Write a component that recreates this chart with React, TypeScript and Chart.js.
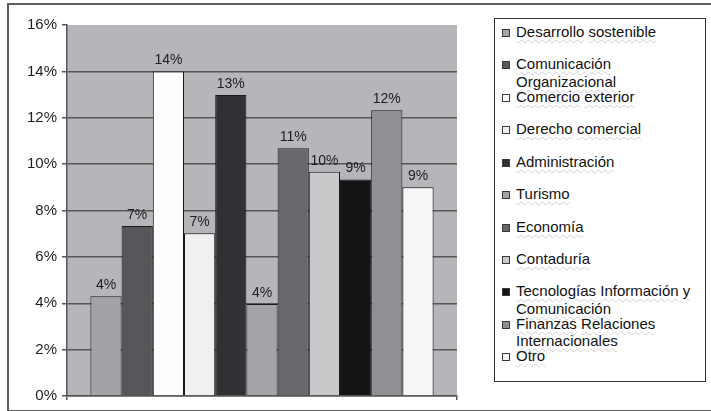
import React, { useEffect, useRef } from "react";
import { Chart, registerables } from "chart.js";

Chart.register(...registerables);

// Share of respondents by programme (percent)
const programs = [
  "Desarrollo sostenible",
  "Comunicación Organizacional",
  "Comercio exterior",
  "Derecho comercial",
  "Administración",
  "Turismo",
  "Economía",
  "Contaduría",
  "Tecnologías Información y Comunicación",
  "Finanzas Relaciones Internacionales",
  "Otro",
];
const shares = [4.3, 7.33, 14.0, 7.02, 12.98, 3.97, 10.68, 9.67, 9.34, 12.32, 9.0];
const fills = [
  "#a2a3a7",
  "#55575a",
  "#fdfdfd",
  "#f0f0f1",
  "#303236",
  "#a3a4a8",
  "#66686b",
  "#c8c9cb",
  "#141416",
  "#8f9094",
  "#f6f6f6",
];
const yMax = 16;
const yStep = 2;

const FONT = '"Liberation Sans", Arial, sans-serif';
const AXIS_GREY = "#565656";

const plotBackground = {
  id: "plotBackground",
  beforeDraw(chart: any) {
    const { ctx, chartArea } = chart;
    ctx.save();
    ctx.fillStyle = "#b5b6ba";
    ctx.fillRect(chartArea.left, chartArea.top, chartArea.right - chartArea.left, chartArea.bottom - chartArea.top);
    ctx.restore();
  },
};

const valueLabels = {
  id: "valueLabels",
  afterDatasetsDraw(chart: any) {
    const { ctx } = chart;
    ctx.save();
    ctx.font = `14px ${FONT}`;
    ctx.fillStyle = "#1e1e1e";
    ctx.textAlign = "center";
    ctx.textBaseline = "middle";
    chart.data.datasets.forEach((ds: any, i: number) => {
      const bar = chart.getDatasetMeta(i).data[0];
      if (!bar) return;
      ctx.fillText(`${Math.round(ds.data[0])}%`, bar.x, bar.y - 11);
    });
    ctx.restore();
  },
};

function Legend() {
  const pitch = 32.43;
  return (
    <div
      style={{
        position: "absolute",
        left: 494,
        top: 18,
        width: 210,
        height: 362,
        border: "1px solid #333",
        background: "#fff",
        fontFamily: FONT,
        fontSize: 15,
        color: "#111",
      }}
    >
      {programs.map((name, i) => (
        <div
          key={name}
          style={{
            position: "absolute",
            left: 7,
            top: 4 + i * pitch,
            width: 198,
            lineHeight: "17.5px",
          }}
        >
          <span
            style={{
              position: "absolute",
              left: 0,
              top: 6,
              width: 6,
              height: 6,
              border: "1px solid #3a3a3a",
              background: fills[i],
            }}
          />
          <div style={{ marginLeft: 14, textAlign: "left" }}>
            {name.split(" ").map((w, k, arr) => (
              <React.Fragment key={k}>
                <span
                  style={{
                    textDecorationLine: "underline",
                    textDecorationStyle: "wavy",
                    textDecorationColor: "#d2d2d2",
                    textDecorationThickness: "1px",
                    textUnderlineOffset: "2px",
                  }}
                >
                  {w}
                </span>
                {k < arr.length - 1 ? " " : null}
              </React.Fragment>
            ))}
          </div>
        </div>
      ))}
    </div>
  );
}

export default function App() {
  const ref = useRef<HTMLCanvasElement | null>(null);

  useEffect(() => {
    if (!ref.current) return;
    const chart = new Chart(ref.current, {
      type: "bar",
      data: {
        labels: [""],
        datasets: programs.map((name, i) => ({
          label: name,
          data: [shares[i]],
          backgroundColor: fills[i],
          borderColor: "#1a1a1a",
          borderWidth: 1,
          categoryPercentage: 0.88,
          barPercentage: 1,
        })),
      },
      options: {
        responsive: false,
        animation: false,
        layout: { padding: { top: 25, right: 33, bottom: 11, left: 0 } },
        plugins: { legend: { display: false }, tooltip: { enabled: false } },
        scales: {
          x: {
            ticks: { display: false },
            grid: { display: true, drawOnChartArea: false, drawTicks: true, tickLength: 4, color: AXIS_GREY, lineWidth: 1.5 },
            border: { display: true, color: AXIS_GREY, width: 1.5 },
            afterFit: (s: any) => {
              s.height = 4;
            },
          },
          y: {
            min: 0,
            max: yMax,
            ticks: {
              stepSize: yStep,
              padding: 5,
              color: "#1e1e1e",
              font: { family: FONT, size: 15 },
              callback: (v: any) => `${v}%`,
            },
            grid: {
              color: (c: any) => (c.tick && c.tick.value === yMax ? "rgba(0,0,0,0)" : AXIS_GREY),
              tickColor: AXIS_GREY,
              lineWidth: 1.5,
              tickLength: 5,
            },
            border: { display: true, color: AXIS_GREY, width: 1.5 },
            afterFit: (s: any) => {
              s.width = 67;
            },
          },
        },
      },
      plugins: [plotBackground, valueLabels],
    });
    return () => chart.destroy();
  }, []);

  return (
    <div style={{ position: "fixed", left: 0, top: 0, width: 711, height: 411, background: "#fff", overflow: "hidden" }}>
      <div
        style={{
          position: "absolute",
          left: 7,
          top: 3,
          width: 720,
          height: 405,
          borderTop: "2px solid #5e5e5e",
          borderLeft: "2px solid #5e5e5e",
          borderBottom: "2px solid #5e5e5e",
        }}
      />
      <canvas ref={ref} width={490} height={411} style={{ position: "absolute", left: 0, top: 0 }} />
      <Legend />
    </div>
  );
}
